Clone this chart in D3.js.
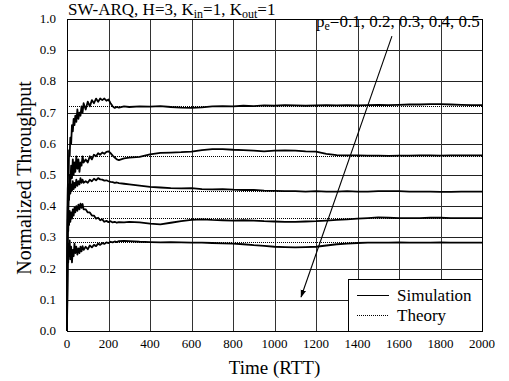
<!DOCTYPE html>
<html>
<head>
<meta charset="utf-8">
<script src="https://cdn.jsdelivr.net/npm/d3@7"></script>
<style>
  body { margin: 0; background: #fff; }
  svg text { font-family: "Liberation Serif", "Times New Roman", serif; fill: #000; }
</style>
</head>
<body>
<div id="chart"></div>
<script>
// time samples (RTT) shared by every simulation run
const simTime = [0, 2, 4, 6, 8, 10, 13, 16, 20, 24, 28, 32, 36, 40, 45, 50, 55, 60, 65, 70, 75, 80,
  90, 100, 110, 120, 130, 140, 150, 160, 170, 180, 190, 200, 210, 220, 230, 240, 250, 275, 300,
  350, 400, 450, 500, 550, 600, 650, 700, 750, 800, 850, 900, 950, 1000, 1050, 1100, 1150, 1200,
  1250, 1300, 1350, 1400, 1450, 1500, 1550, 1600, 1650, 1700, 1750, 1800, 1850, 1900, 1950, 2000];

const errorRates = [0.1, 0.2, 0.3, 0.4, 0.5];
const theory = [0.722, 0.562, 0.448, 0.361, 0.284];

const sim01 = [0, 0.33, 0.46, 0.53, 0.50, 0.58, 0.56, 0.62, 0.60, 0.66, 0.64, 0.68, 0.66, 0.69, 0.67, 0.71, 0.68, 0.70, 0.69, 0.72, 0.70, 0.73,
  0.71, 0.735, 0.72, 0.74, 0.73, 0.745, 0.735, 0.745, 0.74, 0.745, 0.738, 0.742, 0.73, 0.72, 0.715, 0.718, 0.716, 0.72, 0.718,
  0.72, 0.719, 0.721, 0.718, 0.716, 0.715, 0.717, 0.72, 0.721, 0.72, 0.722, 0.721, 0.723, 0.722, 0.724, 0.723, 0.722, 0.723,
  0.724, 0.723, 0.724, 0.723, 0.724, 0.725, 0.724, 0.725, 0.726, 0.726, 0.727, 0.727, 0.726, 0.725, 0.724, 0.724];
const sim02 = [0, 0.25, 0.40, 0.36, 0.45, 0.42, 0.50, 0.47, 0.53, 0.49, 0.55, 0.50, 0.54, 0.51, 0.56, 0.52, 0.55, 0.51, 0.54, 0.53, 0.56, 0.54,
  0.55, 0.54, 0.56, 0.55, 0.565, 0.56, 0.57, 0.565, 0.572, 0.568, 0.574, 0.576, 0.57, 0.562, 0.556, 0.55, 0.548, 0.553, 0.556,
  0.558, 0.566, 0.571, 0.572, 0.573, 0.575, 0.58, 0.583, 0.583, 0.581, 0.58, 0.578, 0.576, 0.578, 0.579, 0.578, 0.576, 0.575,
  0.568, 0.564, 0.563, 0.563, 0.562, 0.562, 0.561, 0.562, 0.562, 0.563, 0.563, 0.562, 0.563, 0.563, 0.563, 0.563];
const sim03 = [0, 0.30, 0.46, 0.40, 0.47, 0.43, 0.48, 0.44, 0.47, 0.45, 0.48, 0.455, 0.475, 0.46, 0.485, 0.465, 0.48, 0.47, 0.49, 0.475, 0.485, 0.475,
  0.48, 0.475, 0.485, 0.48, 0.488, 0.483, 0.49, 0.486, 0.485, 0.482, 0.483, 0.48, 0.478, 0.477, 0.475, 0.476, 0.474, 0.472, 0.47,
  0.466, 0.462, 0.46, 0.458, 0.457, 0.458, 0.455, 0.454, 0.455, 0.453, 0.452, 0.452, 0.45, 0.449, 0.448, 0.448, 0.447, 0.448,
  0.447, 0.447, 0.448, 0.447, 0.447, 0.448, 0.448, 0.448, 0.447, 0.447, 0.447, 0.446, 0.446, 0.447, 0.447, 0.447];
const sim04 = [0, 0.20, 0.36, 0.32, 0.38, 0.34, 0.385, 0.35, 0.38, 0.36, 0.39, 0.37, 0.395, 0.38, 0.40, 0.385, 0.405, 0.39, 0.408, 0.395, 0.407, 0.39,
  0.39, 0.38, 0.38, 0.37, 0.37, 0.36, 0.363, 0.355, 0.358, 0.35, 0.353, 0.349, 0.352, 0.348, 0.35, 0.347, 0.349, 0.348, 0.35,
  0.348, 0.344, 0.342, 0.347, 0.352, 0.356, 0.358, 0.356, 0.355, 0.354, 0.355, 0.354, 0.352, 0.351, 0.35, 0.35, 0.351, 0.352,
  0.354, 0.356, 0.358, 0.36, 0.362, 0.364, 0.363, 0.362, 0.362, 0.362, 0.363, 0.363, 0.362, 0.362, 0.362, 0.362];
const sim05 = [0, 0.15, 0.27, 0.22, 0.28, 0.24, 0.29, 0.23, 0.27, 0.22, 0.26, 0.24, 0.28, 0.25, 0.27, 0.245, 0.265, 0.25, 0.27, 0.255, 0.272, 0.26,
  0.27, 0.262, 0.274, 0.268, 0.276, 0.272, 0.28, 0.276, 0.282, 0.279, 0.284, 0.282, 0.286, 0.284, 0.287, 0.285, 0.288, 0.289, 0.288,
  0.286, 0.285, 0.284, 0.285, 0.284, 0.283, 0.283, 0.282, 0.281, 0.28, 0.278, 0.275, 0.273, 0.27, 0.269, 0.268, 0.269, 0.27,
  0.274, 0.278, 0.28, 0.282, 0.283, 0.283, 0.283, 0.284, 0.283, 0.283, 0.283, 0.284, 0.283, 0.283, 0.283, 0.283];
const simRuns = [sim01, sim02, sim03, sim04, sim05];

const xTicks = [0, 200, 400, 600, 800, 1000, 1200, 1400, 1600, 1800, 2000];
const yTicks = [0, 0.1, 0.2, 0.3, 0.4, 0.5, 0.6, 0.7, 0.8, 0.9, 1.0];

// annotation arrow, in data units
const arrowFrom = [1566, 0.945];
const arrowTo = [1128, 0.109];

const W = 509, H = 381;
const margin = {top: 19, right: 27, bottom: 50, left: 67};
const width = W - margin.left - margin.right;
const height = H - margin.top - margin.bottom;

const svg = d3.select("#chart").append("svg")
    .attr("width", W)
    .attr("height", H);

svg.append("defs").append("marker")
    .attr("id", "head")
    .attr("viewBox", "0 0 10 10")
    .attr("refX", 9).attr("refY", 5)
    .attr("markerWidth", 8).attr("markerHeight", 8)
    .attr("markerUnits", "userSpaceOnUse")
    .attr("orient", "auto")
  .append("path")
    .attr("d", "M0,1.5 L10,5 L0,8.5 Z")
    .attr("fill", "#000");

const g = svg.append("g")
    .attr("transform", `translate(${margin.left},${margin.top})`);

const x = d3.scaleLinear().domain([0, 2000]).range([0, width]);
const y = d3.scaleLinear().domain([0, 1]).range([height, 0]);
const crispY = v => Math.round(y(v)) + 0.5;

// grid
g.append("g").selectAll("line")
    .data(yTicks.slice(1, -1))
    .enter().append("line")
    .attr("x1", 0).attr("x2", width)
    .attr("y1", d => crispY(d))
    .attr("y2", d => crispY(d))
    .attr("stroke", "#222").attr("stroke-width", 1);

g.append("g").selectAll("line")
    .data(xTicks.slice(1, -1))
    .enter().append("line")
    .attr("y1", 0).attr("y2", height)
    .attr("x1", d => Math.round(x(d)) + 0.5)
    .attr("x2", d => Math.round(x(d)) + 0.5)
    .attr("stroke", "#333").attr("stroke-width", 1);

// tick labels
g.append("g").selectAll("text")
    .data(yTicks)
    .enter().append("text")
    .attr("x", -11)
    .attr("y", d => y(d))
    .attr("dy", "0.3em")
    .attr("text-anchor", "end")
    .attr("font-size", 13)
    .text(d => d3.format(".1f")(d));

g.append("g").selectAll("text")
    .data(xTicks)
    .enter().append("text")
    .attr("x", d => x(d))
    .attr("y", height + 17)
    .attr("text-anchor", "middle")
    .attr("font-size", 13)
    .text(d => d);

// theory lines (dotted)
g.append("g").selectAll("line")
    .data(theory)
    .enter().append("line")
    .attr("x1", x(0)).attr("x2", x(2000))
    .attr("y1", d => crispY(d))
    .attr("y2", d => crispY(d))
    .attr("stroke", "#000")
    .attr("stroke-width", 1)
    .attr("stroke-dasharray", "1,1")
    .attr("shape-rendering", "crispEdges");

// simulation lines
const simLine = d3.line()
    .x((d, i) => x(simTime[i]))
    .y(d => y(d));

g.append("g").selectAll("path")
    .data(simRuns)
    .enter().append("path")
    .attr("d", d => simLine(d))
    .attr("fill", "none")
    .attr("stroke", "#000")
    .attr("stroke-width", 1.8)
    .attr("stroke-linejoin", "round");

// frame
g.append("rect")
    .attr("x", 0.5).attr("y", 0.5)
    .attr("width", width).attr("height", height)
    .attr("fill", "none")
    .attr("stroke", "#000")
    .attr("stroke-width", 1);

// arrow + label
g.append("line")
    .attr("x1", x(arrowFrom[0])).attr("y1", y(arrowFrom[1]))
    .attr("x2", x(arrowTo[0])).attr("y2", y(arrowTo[1]))
    .attr("stroke", "#000")
    .attr("stroke-width", 1.1)
    .attr("marker-end", "url(#head)");

const pe = g.append("text")
    .attr("x", x(1200))
    .attr("y", 8)
    .attr("font-size", 17);
pe.append("tspan").text("p");
pe.append("tspan").attr("font-size", 12).attr("dy", 3).text("e");
pe.append("tspan").attr("dy", -3).text("=" + errorRates.join(", "));

// title
const title = svg.append("text")
    .attr("x", 68)
    .attr("y", 15)
    .attr("font-size", 17);
title.append("tspan").text("SW-ARQ, H=3, K");
title.append("tspan").attr("font-size", 12).attr("dy", 2.5).text("in");
title.append("tspan").attr("dy", -2.5).text("=1, K");
title.append("tspan").attr("font-size", 12).attr("dy", 2.5).text("out");
title.append("tspan").attr("dy", -2.5).text("=1");

// legend
const legW = 134, legH = 52;
const leg = g.append("g")
    .attr("transform", `translate(${width - legW},${height - legH})`);
leg.append("rect")
    .attr("x", 0.5).attr("y", 0.5)
    .attr("width", legW).attr("height", legH)
    .attr("fill", "#fff")
    .attr("stroke", "#000");

const legItems = [
    {label: "Simulation", dash: null},
    {label: "Theory", dash: "1,1"}
];
legItems.forEach((d, i) => {
    const ly = 16.5 + i * 20;
    leg.append("line")
        .attr("x1", 9).attr("x2", 41)
        .attr("y1", ly).attr("y2", ly)
        .attr("stroke", "#000")
        .attr("stroke-width", 1)
        .attr("stroke-dasharray", d.dash)
        .attr("shape-rendering", "crispEdges");
    leg.append("text")
        .attr("x", 49).attr("y", ly + 5)
        .attr("font-size", 17)
        .text(d.label);
});

// axis titles
svg.append("text")
    .attr("x", margin.left + width / 2)
    .attr("y", 374)
    .attr("text-anchor", "middle")
    .attr("font-size", 19)
    .text("Time (RTT)");

svg.append("text")
    .attr("transform", `translate(31,${margin.top + height / 2 + 3}) rotate(-90)`)
    .attr("text-anchor", "middle")
    .attr("font-size", 20)
    .text("Normalized Throughput");
</script>
</body>
</html>
